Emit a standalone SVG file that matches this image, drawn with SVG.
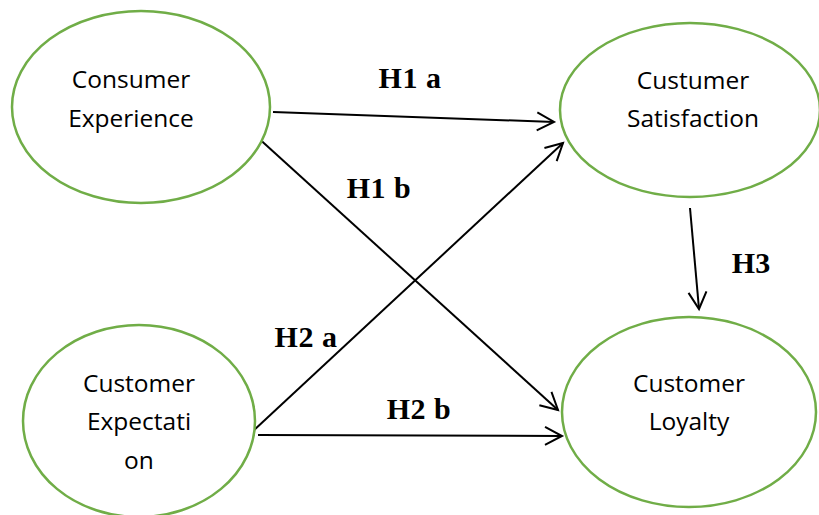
<svg xmlns="http://www.w3.org/2000/svg" width="819" height="515" viewBox="0 0 819 515">
<style>
.node ellipse{fill:#fff;stroke:#70AD47;stroke-width:2.5}
.node text{font-family:"Open Sans","Liberation Sans",sans-serif;font-size:24.5px;fill:#000;text-anchor:middle}
.edge{stroke:#000;stroke-width:2;fill:none}
.lbl{font-family:"Liberation Serif","Times New Roman",serif;font-weight:bold;font-size:30px;fill:#000;text-anchor:middle}
</style>
<defs>
<marker id="arr" markerUnits="userSpaceOnUse" orient="auto" refX="0" refY="0" markerWidth="20" markerHeight="20" overflow="visible">
<path d="M-17,-9 L0,0 L-17,9" fill="none" stroke="#000" stroke-width="2" stroke-linejoin="miter"/>
</marker>
</defs>
<rect width="819" height="515" fill="#fff"/>
<g id="connectors">
<line class="edge" x1="273" y1="112" x2="554" y2="122" marker-end="url(#arr)"/>
<line class="edge" x1="255" y1="135" x2="558" y2="410" marker-end="url(#arr)"/>
<line class="edge" x1="253" y1="431" x2="563" y2="143" marker-end="url(#arr)"/>
<line class="edge" x1="258" y1="435" x2="562" y2="436" marker-end="url(#arr)"/>
<line class="edge" x1="690" y1="208" x2="699" y2="309" marker-end="url(#arr)"/>
</g>
<g id="labels">
<text class="lbl" x="410" y="88" letter-spacing="0.5">H1 a</text>
<text class="lbl" x="379" y="198" letter-spacing="0.5">H1 b</text>
<text class="lbl" x="751" y="273">H3</text>
<text class="lbl" x="306" y="347" letter-spacing="0.5">H2 a</text>
<text class="lbl" x="419" y="419" letter-spacing="0.5">H2 b</text>
</g>
<g id="consumer-experience" class="node">
<ellipse cx="141" cy="107" rx="129" ry="96"/>
<text x="131" y="88">Consumer</text>
<text x="131" y="127">Experience</text>
</g>
<g id="customer-satisfaction" class="node">
<ellipse cx="690" cy="110" rx="130" ry="87"/>
<text x="693" y="89">Custumer</text>
<text x="693" y="127">Satisfaction</text>
</g>
<g id="customer-expectation" class="node">
<ellipse cx="139" cy="421" rx="116" ry="96"/>
<text x="139" y="392">Customer</text>
<text x="139" y="430">Expectati</text>
<text x="139" y="469">on</text>
</g>
<g id="customer-loyalty" class="node">
<ellipse cx="689" cy="412" rx="127" ry="95"/>
<text x="689" y="392">Customer</text>
<text x="689" y="430">Loyalty</text>
</g>
</svg>
